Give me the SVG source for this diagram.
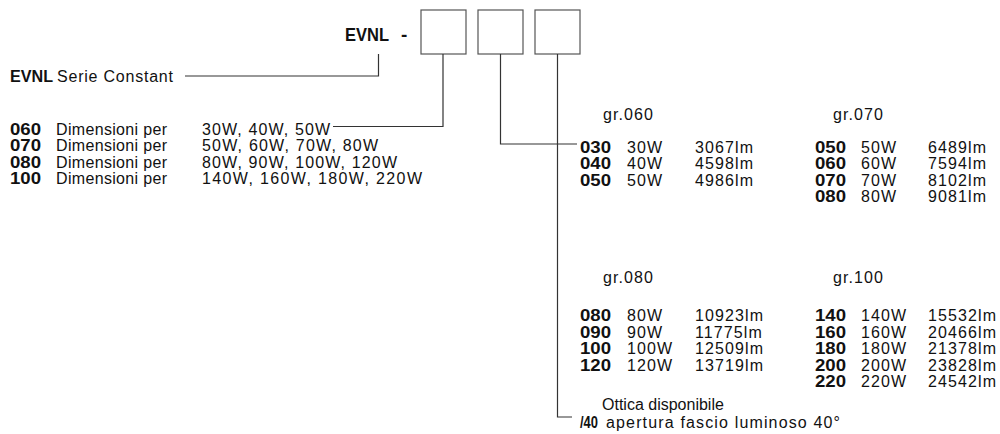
<svg xmlns="http://www.w3.org/2000/svg" width="1000" height="434" viewBox="0 0 1000 434">
<style>
text{font-family:"Liberation Sans",Arial,sans-serif;font-size:16px;fill:#111}
.b{font-weight:bold}
.n{letter-spacing:1.1px}
.t{font-size:19px;font-weight:bold}
.box{fill:#fff;stroke:#555;stroke-width:1.2}
.ln{fill:none;stroke:#333;stroke-width:1.2}
</style>
<rect width="1000" height="434" fill="#fff"/>
<g id="code">
<text class="t" x="345" y="41" textLength="44" lengthAdjust="spacingAndGlyphs">EVNL</text>
<text class="t" x="401" y="41">-</text>
</g>
<g id="box1"><rect class="box" x="421" y="10" width="45" height="44"/></g>
<g id="box2"><rect class="box" x="478" y="10" width="45" height="44"/></g>
<g id="box3"><rect class="box" x="535" y="10" width="45" height="44"/></g>
<g id="connectors">
<polyline class="ln" points="185,76 378.5,76 378.5,54"/>
<polyline class="ln" points="333,126.5 443,126.5 443,54"/>
<polyline class="ln" points="500.5,54 500.5,144 577,144"/>
<polyline class="ln" points="557.5,54 557.5,417 572,417"/>
</g>
<g id="serie">
<text class="b" x="10" y="82" textLength="43" lengthAdjust="spacingAndGlyphs">EVNL</text>
<text x="57" y="82" textLength="116">Serie Constant</text>
</g>
<g id="dimensioni">
<text class="b" x="10" y="134.5" textLength="31" lengthAdjust="spacingAndGlyphs">060</text><text x="56" y="134.5" textLength="111">Dimensioni per</text><text x="202" y="134.5" textLength="128">30W, 40W, 50W</text>
<text class="b" x="10" y="151" textLength="31" lengthAdjust="spacingAndGlyphs">070</text><text x="56" y="151" textLength="111">Dimensioni per</text><text x="202" y="151" textLength="176">50W, 60W, 70W, 80W</text>
<text class="b" x="10" y="167.5" textLength="31" lengthAdjust="spacingAndGlyphs">080</text><text x="56" y="167.5" textLength="111">Dimensioni per</text><text x="202" y="167.5" textLength="195">80W, 90W, 100W, 120W</text>
<text class="b" x="10" y="184" textLength="31" lengthAdjust="spacingAndGlyphs">100</text><text x="56" y="184" textLength="111">Dimensioni per</text><text x="202" y="184" textLength="220">140W, 160W, 180W, 220W</text>
</g>
<g id="gr060">
<text class="n" x="603" y="120">gr.060</text>
<text class="b" x="580" y="152.5" textLength="31" lengthAdjust="spacingAndGlyphs">030</text><text class="n" x="627" y="152.5">30W</text><text class="n" x="695" y="152.5">3067lm</text>
<text class="b" x="580" y="169" textLength="31" lengthAdjust="spacingAndGlyphs">040</text><text class="n" x="627" y="169">40W</text><text class="n" x="695" y="169">4598lm</text>
<text class="b" x="580" y="185.5" textLength="31" lengthAdjust="spacingAndGlyphs">050</text><text class="n" x="627" y="185.5">50W</text><text class="n" x="695" y="185.5">4986lm</text>
</g>
<g id="gr070">
<text class="n" x="833" y="120">gr.070</text>
<text class="b" x="815" y="152.5" textLength="31" lengthAdjust="spacingAndGlyphs">050</text><text class="n" x="861" y="152.5">50W</text><text class="n" x="928" y="152.5">6489lm</text>
<text class="b" x="815" y="169" textLength="31" lengthAdjust="spacingAndGlyphs">060</text><text class="n" x="861" y="169">60W</text><text class="n" x="928" y="169">7594lm</text>
<text class="b" x="815" y="185.5" textLength="31" lengthAdjust="spacingAndGlyphs">070</text><text class="n" x="861" y="185.5">70W</text><text class="n" x="928" y="185.5">8102lm</text>
<text class="b" x="815" y="202" textLength="31" lengthAdjust="spacingAndGlyphs">080</text><text class="n" x="861" y="202">80W</text><text class="n" x="928" y="202">9081lm</text>
</g>
<g id="gr080">
<text class="n" x="603" y="283">gr.080</text>
<text class="b" x="580" y="321" textLength="31" lengthAdjust="spacingAndGlyphs">080</text><text class="n" x="627" y="321">80W</text><text class="n" x="695" y="321">10923lm</text>
<text class="b" x="580" y="337.5" textLength="31" lengthAdjust="spacingAndGlyphs">090</text><text class="n" x="627" y="337.5">90W</text><text class="n" x="695" y="337.5">11775lm</text>
<text class="b" x="580" y="354" textLength="31" lengthAdjust="spacingAndGlyphs">100</text><text class="n" x="627" y="354">100W</text><text class="n" x="695" y="354">12509lm</text>
<text class="b" x="580" y="370.5" textLength="31" lengthAdjust="spacingAndGlyphs">120</text><text class="n" x="627" y="370.5">120W</text><text class="n" x="695" y="370.5">13719lm</text>
</g>
<g id="gr100">
<text class="n" x="833" y="283">gr.100</text>
<text class="b" x="815" y="321" textLength="31" lengthAdjust="spacingAndGlyphs">140</text><text class="n" x="861" y="321">140W</text><text class="n" x="928" y="321">15532lm</text>
<text class="b" x="815" y="337.5" textLength="31" lengthAdjust="spacingAndGlyphs">160</text><text class="n" x="861" y="337.5">160W</text><text class="n" x="928" y="337.5">20466lm</text>
<text class="b" x="815" y="354" textLength="31" lengthAdjust="spacingAndGlyphs">180</text><text class="n" x="861" y="354">180W</text><text class="n" x="928" y="354">21378lm</text>
<text class="b" x="815" y="370.5" textLength="31" lengthAdjust="spacingAndGlyphs">200</text><text class="n" x="861" y="370.5">200W</text><text class="n" x="928" y="370.5">23828lm</text>
<text class="b" x="815" y="387" textLength="31" lengthAdjust="spacingAndGlyphs">220</text><text class="n" x="861" y="387">220W</text><text class="n" x="928" y="387">24542lm</text>
</g>
<g id="ottica">
<text x="602" y="410">Ottica disponibile</text>
<text class="b" x="580" y="428" textLength="18" lengthAdjust="spacingAndGlyphs">/40</text>
<text x="606" y="428" textLength="234">apertura fascio luminoso 40°</text>
</g>
</svg>
